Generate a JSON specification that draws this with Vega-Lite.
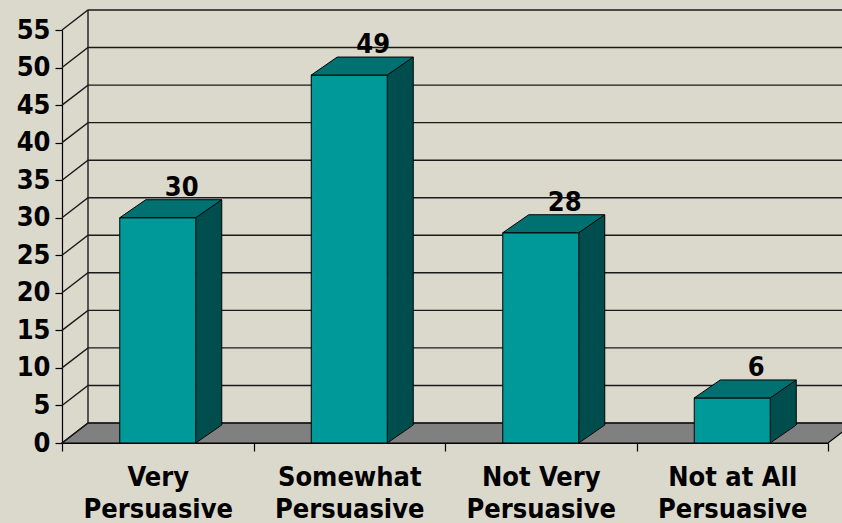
{
  "$schema": "https://vega.github.io/schema/vega-lite/v6.json",
  "width": 766,
  "height": 413,
  "autosize": {"type": "none"},
  "padding": {"left": 62, "top": 30, "right": 14, "bottom": 80},
  "background": "#DBD9CC",
  "config": {
    "view": {"stroke": null},
    "font": "DejaVu Sans Condensed",
    "axis": {
      "labelFontSize": 27, "labelFontWeight": "bold", "labelColor": "#000000",
      "domainColor": "#000000", "domainWidth": 1.2, "tickColor": "#000000", "tickWidth": 1.2,
      "grid": false, "labelBound": false, "labelOverlap": false, "labelLimit": 0
    },
    "axisX": {
      "labelAngle": 0, "tickBand": "extent", "tickSize": 8, "labelPadding": 13, "labelLineHeight": 32,
      "labelExpr": "(datum.label == null || datum.label == '') ? '' : [replace(datum.label, ' Persuasive', ''), 'Persuasive']"
    },
    "axisY": {"tickSize": 7, "labelPadding": 5}
  },
  "datasets": {
    "bars": [
      {"cat": "Very Persuasive", "v": 30},
      {"cat": "Somewhat Persuasive", "v": 49},
      {"cat": "Not Very Persuasive", "v": 28},
      {"cat": "Not at All Persuasive", "v": 6}
    ],
    "grid": [
      {"g": 0}, {"g": 5}, {"g": 10}, {"g": 15}, {"g": 20}, {"g": 25},
      {"g": 30}, {"g": 35}, {"g": 40}, {"g": 45}, {"g": 50}, {"g": 55}
    ],
    "one": [{"k": 0}]
  },
  "layer": [
    {
      "data": {"name": "one"},
      "mark": {"type": "point", "shape": "M0,0 L26,-20 L792,-20 L766,0 Z", "size": 4, "filled": true, "fill": "#808080", "fillOpacity": 1, "stroke": "#000000", "strokeWidth": 1.2, "opacity": 1},
      "encoding": {
        "x": {"datum": "Very Persuasive", "type": "nominal", "bandPosition": 0, "scale": {"domain": ["Very Persuasive", "Somewhat Persuasive", "Not Very Persuasive", "Not at All Persuasive"], "paddingInner": 0, "paddingOuter": 0}, "axis": {"title": null}},
        "y": {"datum": 0, "type": "quantitative", "scale": {"domain": [0, 55], "nice": false}, "axis": {"title": null, "values": [0, 5, 10, 15, 20, 25, 30, 35, 40, 45, 50, 55]}}
      }
    },
    {
      "data": {"name": "grid"},
      "mark": {"type": "point", "shape": "M0,0 L26,-20 L820,-20", "size": 4, "filled": false, "stroke": "#1a1a1a", "strokeWidth": 1.4, "fillOpacity": 0, "opacity": 1},
      "encoding": {
        "x": {"datum": "Very Persuasive", "type": "nominal", "bandPosition": 0, "scale": {"domain": ["Very Persuasive", "Somewhat Persuasive", "Not Very Persuasive", "Not at All Persuasive"], "paddingInner": 0, "paddingOuter": 0}, "axis": {"title": null}},
        "y": {"field": "g", "type": "quantitative", "scale": {"domain": [0, 55], "nice": false}, "axis": {"title": null, "values": [0, 5, 10, 15, 20, 25, 30, 35, 40, 45, 50, 55]}}
      }
    },
    {
      "data": {"name": "one"},
      "mark": {"type": "rule", "xOffset": 26, "yOffset": -20, "y2Offset": -20, "stroke": "#1a1a1a", "strokeWidth": 1.4},
      "encoding": {
        "x": {"datum": "Very Persuasive", "type": "nominal", "bandPosition": 0, "scale": {"domain": ["Very Persuasive", "Somewhat Persuasive", "Not Very Persuasive", "Not at All Persuasive"], "paddingInner": 0, "paddingOuter": 0}, "axis": {"title": null}},
        "y": {"datum": 0, "type": "quantitative", "scale": {"domain": [0, 55], "nice": false}, "axis": {"title": null, "values": [0, 5, 10, 15, 20, 25, 30, 35, 40, 45, 50, 55]}},
        "y2": {"datum": 55}
      }
    },
    {
      "data": {"name": "bars"},
      "mark": {"type": "bar", "width": 26, "xOffset": 51, "yOffset": -18, "y2Offset": -18, "fill": "#004D4D"},
      "encoding": {
        "x": {"field": "cat", "type": "nominal", "sort": null, "scale": {"domain": ["Very Persuasive", "Somewhat Persuasive", "Not Very Persuasive", "Not at All Persuasive"], "paddingInner": 0, "paddingOuter": 0}, "axis": {"title": null}},
        "y": {"field": "v", "type": "quantitative", "scale": {"domain": [0, 55], "nice": false}, "axis": {"title": null, "values": [0, 5, 10, 15, 20, 25, 30, 35, 40, 45, 50, 55]}}
      }
    },
    {
      "data": {"name": "bars"},
      "mark": {"type": "point", "shape": "M37.5,-18.6 L37.5,0 L64.2,-18.6 Z", "size": 4, "filled": true, "fill": "#004D4D", "fillOpacity": 1, "strokeWidth": 0, "opacity": 1},
      "encoding": {
        "x": {"field": "cat", "type": "nominal", "sort": null, "scale": {"domain": ["Very Persuasive", "Somewhat Persuasive", "Not Very Persuasive", "Not at All Persuasive"], "paddingInner": 0, "paddingOuter": 0}, "axis": {"title": null}},
        "y": {"datum": 0, "type": "quantitative", "scale": {"domain": [0, 55], "nice": false}, "axis": {"title": null, "values": [0, 5, 10, 15, 20, 25, 30, 35, 40, 45, 50, 55]}}
      }
    },
    {
      "data": {"name": "bars"},
      "mark": {"type": "point", "shape": "M38,0 L64,-18", "size": 4, "filled": false, "stroke": "#000000", "strokeWidth": 1, "fillOpacity": 0, "opacity": 1},
      "encoding": {
        "x": {"field": "cat", "type": "nominal", "sort": null, "scale": {"domain": ["Very Persuasive", "Somewhat Persuasive", "Not Very Persuasive", "Not at All Persuasive"], "paddingInner": 0, "paddingOuter": 0}, "axis": {"title": null}},
        "y": {"datum": 0, "type": "quantitative", "scale": {"domain": [0, 55], "nice": false}, "axis": {"title": null, "values": [0, 5, 10, 15, 20, 25, 30, 35, 40, 45, 50, 55]}}
      }
    },
    {
      "data": {"name": "bars"},
      "mark": {"type": "rule", "xOffset": 64, "yOffset": -18, "y2Offset": -18, "stroke": "#000000", "strokeWidth": 1},
      "encoding": {
        "x": {"field": "cat", "type": "nominal", "sort": null, "scale": {"domain": ["Very Persuasive", "Somewhat Persuasive", "Not Very Persuasive", "Not at All Persuasive"], "paddingInner": 0, "paddingOuter": 0}, "axis": {"title": null}},
        "y": {"field": "v", "type": "quantitative", "scale": {"domain": [0, 55], "nice": false}, "axis": {"title": null, "values": [0, 5, 10, 15, 20, 25, 30, 35, 40, 45, 50, 55]}},
        "y2": {"datum": 0}
      }
    },
    {
      "data": {"name": "bars"},
      "mark": {"type": "bar", "width": 76, "fill": "#009999", "stroke": "#000000", "strokeWidth": 1},
      "encoding": {
        "x": {"field": "cat", "type": "nominal", "sort": null, "scale": {"domain": ["Very Persuasive", "Somewhat Persuasive", "Not Very Persuasive", "Not at All Persuasive"], "paddingInner": 0, "paddingOuter": 0}, "axis": {"title": null}},
        "y": {"field": "v", "type": "quantitative", "scale": {"domain": [0, 55], "nice": false}, "axis": {"title": null, "values": [0, 5, 10, 15, 20, 25, 30, 35, 40, 45, 50, 55]}}
      }
    },
    {
      "data": {"name": "bars"},
      "mark": {"type": "point", "shape": "M-38,0 L-12,-18 L64,-18 L38,0 Z", "size": 4, "filled": true, "fill": "#007070", "fillOpacity": 1, "stroke": "#000000", "strokeWidth": 1, "opacity": 1},
      "encoding": {
        "x": {"field": "cat", "type": "nominal", "sort": null, "scale": {"domain": ["Very Persuasive", "Somewhat Persuasive", "Not Very Persuasive", "Not at All Persuasive"], "paddingInner": 0, "paddingOuter": 0}, "axis": {"title": null}},
        "y": {"field": "v", "type": "quantitative", "scale": {"domain": [0, 55], "nice": false}, "axis": {"title": null, "values": [0, 5, 10, 15, 20, 25, 30, 35, 40, 45, 50, 55]}}
      }
    },
    {
      "data": {"name": "bars"},
      "mark": {"type": "text", "xOffset": 24, "yOffset": -22, "baseline": "alphabetic", "align": "center", "fontSize": 27, "fontWeight": "bold", "color": "#000000"},
      "encoding": {
        "x": {"field": "cat", "type": "nominal", "sort": null, "scale": {"domain": ["Very Persuasive", "Somewhat Persuasive", "Not Very Persuasive", "Not at All Persuasive"], "paddingInner": 0, "paddingOuter": 0}, "axis": {"title": null}},
        "y": {"field": "v", "type": "quantitative", "scale": {"domain": [0, 55], "nice": false}, "axis": {"title": null, "values": [0, 5, 10, 15, 20, 25, 30, 35, 40, 45, 50, 55]}},
        "text": {"field": "v", "type": "quantitative"}
      }
    }
  ]
}
